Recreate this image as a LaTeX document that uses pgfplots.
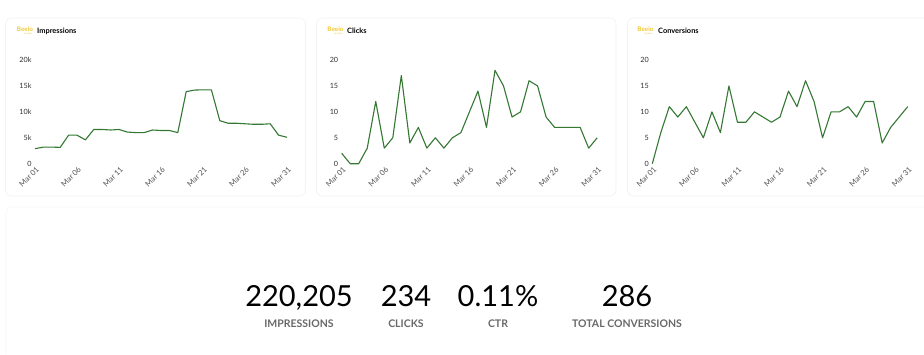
\documentclass[border=0pt]{standalone}
\usepackage{pgfplots}
\pgfplotsset{compat=1.18}
\usepackage{pgfplotstable}
\usepackage{fontspec}
\setmainfont{Lato}
\definecolor{linegreen}{RGB}{52,120,52}
\definecolor{cardborder}{RGB}{242,242,242}
\definecolor{logoyellow}{RGB}{242,200,50}
\definecolor{ticktext}{RGB}{50,50,50}
\definecolor{xticktext}{RGB}{80,80,80}
\definecolor{labelgray}{RGB}{105,105,105}

\pgfplotstableread{
day impr
1 2900
2 3200
3 3200
4 3150
5 5500
6 5500
7 4600
8 6600
9 6600
10 6500
11 6600
12 6100
13 6000
14 6000
15 6500
16 6400
17 6400
18 6000
19 13900
20 14200
21 14250
22 14250
23 8300
24 7800
25 7800
26 7700
27 7600
28 7600
29 7700
30 5500
31 5100
}\impr

\pgfplotstableread{
day clicks
1 2
2 0
3 0
4 3
5 12
6 3
7 5
8 17
9 4
10 7
11 3
12 5
13 3
14 5
15 6
16 10
17 14
18 7
19 18
20 15
21 9
22 10
23 16
24 15
25 9
26 7
27 7
28 7
29 7
30 3
31 5
}\clicks

\pgfplotstableread{
day conv
1 0
2 6
3 11
4 9
5 11
6 8
7 5
8 10
9 6
10 15
11 8
12 8
13 10
14 9
15 8
16 9
17 14
18 11
19 16
20 12
21 5
22 10
23 10
24 11
25 9
26 12
27 12
28 4
29 7
30 9
31 11
}\conv

\pgfplotsset{
  minichart/.style={
    scale only axis,
    height=103.7pt,
    xmin=1, xmax=31,
    ymin=0,
    axis line style={draw=none},
    major tick length=0pt,
    scaled y ticks=false,
    xtick={1,6,11,16,21,26,31},
    xticklabels={Mar 01,Mar 06,Mar 11,Mar 16,Mar 21,Mar 26,Mar 31},
    xticklabel style={font=\fontsize{7.6}{8}\selectfont, text=xticktext, rotate=45, anchor=north east, inner sep=1pt, yshift=-1pt},
    yticklabel style={font=\fontsize{7.2}{8}\selectfont, text=ticktext},
    /pgf/number format/assume math mode=true,
    clip=false,
  },
  greenline/.style={color=linegreen, line width=1.1pt, line join=round, mark=none},
}

\begin{document}
\begin{tikzpicture}[x=1pt,y=1pt]
\useasboundingbox (0,0) rectangle (924,354);
\clip (0,0) rectangle (924,354);
\fill[white] (0,0) rectangle (924,354);
% cards
\draw[cardborder, line width=0.6pt, rounded corners=6pt] (5.5,336) rectangle (305.5,158);
\draw[cardborder, line width=0.6pt, rounded corners=6pt] (316.5,336) rectangle (616,158);
\draw[cardborder, line width=0.6pt, rounded corners=6pt] (627.5,336) rectangle (930,158);
\draw[cardborder!60, line width=0.6pt, rounded corners=6pt] (6,147) rectangle (930,-6);

% titles
\foreach \lx/\tx/\tt in {25/37/Impressions, 335.5/347/Clicks, 645.5/658/Conversions}{
  \node[anchor=base, inner sep=0pt, text=logoyellow, font=\fontsize{6.3}{7}\selectfont\bfseries] at (\lx,322) {Beeio};
  \node[anchor=base, inner sep=0pt, text=logoyellow, font=\fontsize{2.2}{2.5}\selectfont] at (\lx+3,319.2) {by beeio};
  \node[anchor=base west, inner sep=0pt, font=\fontsize{7.4}{8}\selectfont\bfseries] at (\tx,320.5) {\tt};
}

\begin{axis}[minichart, at={(35pt,190.3pt)}, anchor=south west, width=252pt, ymax=20000,
  ytick={0,5000,10000,15000,20000}, yticklabels={0,5k,10k,15k,20k}]
\addplot[greenline] table[x=day,y=impr] {\impr};
\end{axis}

\begin{axis}[minichart, at={(341.7pt,190.3pt)}, anchor=south west, width=255.5pt, ymax=20,
  ytick={0,5,10,15,20}]
\addplot[greenline] table[x=day,y=clicks] {\clicks};
\end{axis}

\begin{axis}[minichart, at={(652.3pt,190.3pt)}, anchor=south west, width=255.4pt, ymax=20,
  ytick={0,5,10,15,20}]
\addplot[greenline] table[x=day,y=conv] {\conv};
\end{axis}

% summary stats
\foreach \cx/\num/\lab in {299/{220,205}/IMPRESSIONS, 406/234/CLICKS, 498/{0.11\%}/CTR, 627/286/TOTAL CONVERSIONS}{
  \node[anchor=base, inner sep=0pt, font=\fontsize{29}{30}\selectfont] at (\cx,48) {\num};
  \node[anchor=base, inner sep=0pt, text=labelgray, font=\fontsize{10.5}{11}\selectfont\bfseries] at (\cx,27) {\lab};
}
\end{tikzpicture}
\end{document}
